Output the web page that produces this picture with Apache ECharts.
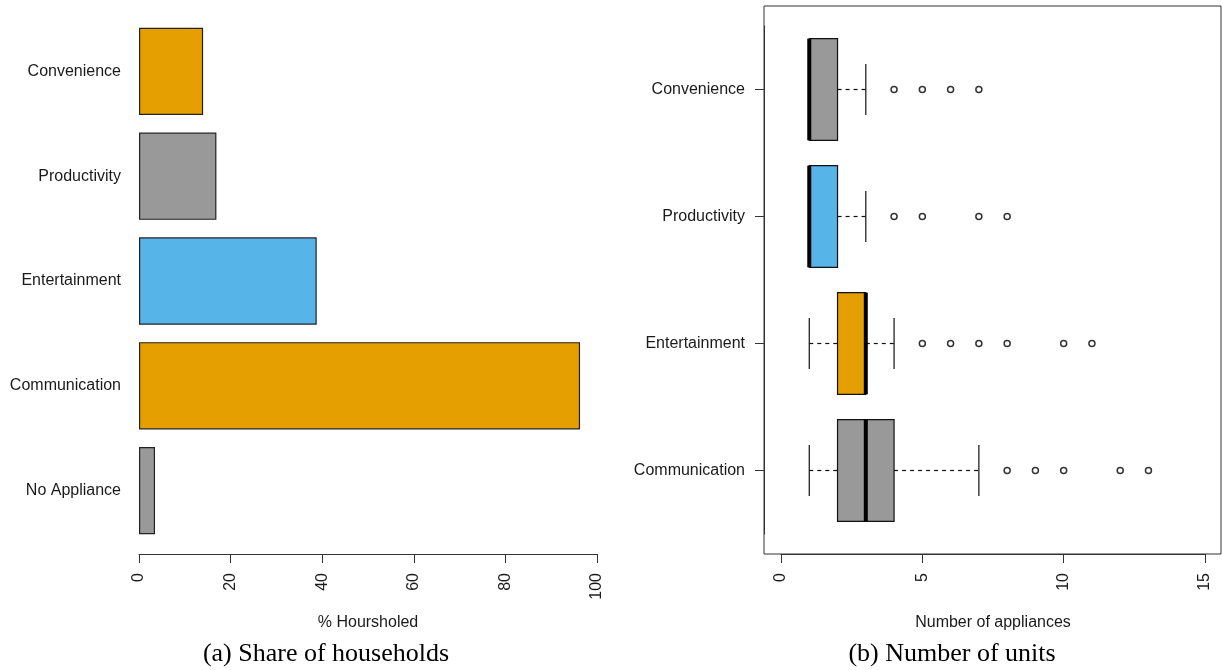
<!DOCTYPE html>
<html>
<head>
<meta charset="utf-8">
<script src="https://cdn.jsdelivr.net/npm/echarts@6/dist/echarts.min.js"></script>
<style>
  html, body { margin: 0; padding: 0; background: #fff; }
  #chart { width: 1222px; height: 670px; }
</style>
</head>
<body>
<div id="chart"></div>
<script>
// Panel (a): share of households owning each appliance type (%)
const shareCategories = ['No Appliance', 'Communication', 'Entertainment', 'Productivity', 'Convenience'];
const shareValues = [3.5, 96.3, 38.8, 16.9, 14.0];
const shareTicks = [0, 20, 40, 60, 80, 100];

// Panel (b): number of appliances per household, five-number summaries
const unitCategories = ['Communication', 'Entertainment', 'Productivity', 'Convenience'];
// [lower whisker, Q1, median, Q3, upper whisker]
const communicationBox = [1, 2, 3, 4, 7];
const entertainmentBox = [1, 2, 3, 3, 4];
const productivityBox = [1, 1, 1, 2, 3];
const convenienceBox = [1, 1, 1, 2, 3];
const communicationOutliers = [8, 9, 10, 12, 13];
const entertainmentOutliers = [5, 6, 7, 8, 10, 11];
const productivityOutliers = [4, 5, 7, 8];
const convenienceOutliers = [4, 5, 6, 7];
const unitTicks = [0, 5, 10, 15];

const ORANGE = '#E69F00';
const BLUE = '#56B4E9';
const GREY = '#999999';
const shareColors = [GREY, ORANGE, BLUE, GREY, ORANGE];
const unitColors = [GREY, ORANGE, BLUE, GREY];

const FONT = 'Liberation Sans, Arial, sans-serif';
const TEXT = '#1a1a1a';
const AXIS = '#333';

const boxes = [communicationBox, entertainmentBox, productivityBox, convenienceBox];
const boxData = boxes.map((b, i) => [i].concat(b));
const outlierSets = [communicationOutliers, entertainmentOutliers, productivityOutliers, convenienceOutliers];
const outlierData = [];
outlierSets.forEach((set, i) => set.forEach(v => outlierData.push([v, i])));

function renderBox(params, api) {
  const cat = api.value(0);
  const lo = api.value(1), q1 = api.value(2), med = api.value(3), q3 = api.value(4), hi = api.value(5);
  const band = api.size([0, 1])[1];
  const half = band * 0.4;
  const stapleHalf = half / 2;
  const y = api.coord([0, cat])[1];
  const xLo = api.coord([lo, cat])[0];
  const xQ1 = api.coord([q1, cat])[0];
  const xMed = api.coord([med, cat])[0];
  const xQ3 = api.coord([q3, cat])[0];
  const xHi = api.coord([hi, cat])[0];
  const thin = { stroke: '#111', lineWidth: 1.2 };
  const dashed = { stroke: '#111', lineWidth: 1.2, lineDash: [4, 4] };
  const children = [];
  if (hi > q3) {
    children.push({ type: 'line', shape: { x1: xQ3, y1: y, x2: xHi, y2: y }, style: dashed });
    children.push({ type: 'line', shape: { x1: xHi, y1: y - stapleHalf, x2: xHi, y2: y + stapleHalf }, style: thin });
  }
  if (lo < q1) {
    children.push({ type: 'line', shape: { x1: xLo, y1: y, x2: xQ1, y2: y }, style: dashed });
    children.push({ type: 'line', shape: { x1: xLo, y1: y - stapleHalf, x2: xLo, y2: y + stapleHalf }, style: thin });
  }
  children.push({
    type: 'rect',
    shape: { x: xQ1, y: y - half, width: xQ3 - xQ1, height: 2 * half },
    style: { fill: unitColors[cat], stroke: '#111', lineWidth: 1.2 }
  });
  children.push({
    type: 'line',
    shape: { x1: xMed, y1: y - half, x2: xMed, y2: y + half },
    style: { stroke: '#000', lineWidth: 4 }
  });
  return { type: 'group', children: children };
}

const chart = echarts.init(document.getElementById('chart'), null, { renderer: 'canvas' });

chart.setOption({
  animation: false,
  backgroundColor: '#fff',
  textStyle: { fontFamily: FONT },
  title: [
    {
      text: '(a) Share of households',
      left: 321, top: 636, textAlign: 'center',
      textStyle: { fontFamily: 'Liberation Serif, Times New Roman, serif', fontSize: 26, fontWeight: 'normal', color: '#000' }
    },
    {
      text: '(b) Number of units',
      left: 947, top: 636, textAlign: 'center',
      textStyle: { fontFamily: 'Liberation Serif, Times New Roman, serif', fontSize: 26, fontWeight: 'normal', color: '#000' }
    }
  ],
  grid: [
    // panel (a)
    { left: 139, right: 625, top: 19, bottom: 127 },
    // panel (b) data region
    { left: 781, right: 17, top: 26, bottom: 136 },
    // panel (b) plot frame
    { left: 764, right: 1, top: 6, bottom: 116, show: true, borderColor: AXIS, borderWidth: 1, backgroundColor: 'transparent' }
  ],
  xAxis: [
    {
      gridIndex: 0, type: 'value', min: shareTicks[0], max: shareTicks[shareTicks.length - 1], interval: 20,
      offset: 11,
      axisLine: { show: true, onZero: false, lineStyle: { color: AXIS, width: 1 } },
      axisTick: { show: true, length: 9, lineStyle: { color: AXIS } },
      axisLabel: { rotate: 90, margin: 19, fontSize: 16, color: TEXT, fontFamily: FONT },
      splitLine: { show: false },
      name: '% Hoursholed', nameLocation: 'middle', nameGap: 61,
      nameTextStyle: { fontSize: 16, color: TEXT, fontFamily: FONT }
    },
    {
      gridIndex: 1, type: 'value', min: unitTicks[0], max: unitTicks[unitTicks.length - 1], interval: 5,
      offset: 20,
      axisLine: { show: true, onZero: false, lineStyle: { color: AXIS, width: 1 } },
      axisTick: { show: true, length: 9, lineStyle: { color: AXIS } },
      axisLabel: { rotate: 90, margin: 19, fontSize: 16, color: TEXT, fontFamily: FONT },
      splitLine: { show: false },
      name: 'Number of appliances', nameLocation: 'middle', nameGap: 61,
      nameTextStyle: { fontSize: 16, color: TEXT, fontFamily: FONT }
    },
    { gridIndex: 2, type: 'value', show: false, min: 0, max: 1 }
  ],
  yAxis: [
    {
      gridIndex: 0, type: 'category', data: shareCategories,
      axisLine: { show: false, onZero: false }, axisTick: { show: false },
      axisLabel: { margin: 18, fontSize: 16, color: TEXT, fontFamily: FONT },
      splitLine: { show: false }
    },
    {
      gridIndex: 1, type: 'category', data: unitCategories,
      offset: 17,
      axisLine: { show: true, onZero: false, lineStyle: { color: AXIS, width: 1 } },
      axisTick: { show: true, alignWithLabel: true, length: 9, lineStyle: { color: AXIS } },
      axisLabel: { margin: 19, fontSize: 16, color: TEXT, fontFamily: FONT },
      splitLine: { show: false }
    },
    { gridIndex: 2, type: 'value', show: false, min: 0, max: 1 }
  ],
  series: [
    {
      type: 'bar', xAxisIndex: 0, yAxisIndex: 0,
      barCategoryGap: '16.67%',
      data: shareValues.map((v, i) => ({ value: v, itemStyle: { color: shareColors[i] } })),
      itemStyle: { borderColor: '#222', borderWidth: 1.2 }
    },
    {
      type: 'custom', xAxisIndex: 1, yAxisIndex: 1,
      renderItem: renderBox,
      encode: { x: [1, 2, 3, 4, 5], y: 0 },
      data: boxData,
      z: 2
    },
    {
      type: 'scatter', xAxisIndex: 1, yAxisIndex: 1,
      symbol: 'circle', symbolSize: 6,
      itemStyle: { color: 'rgba(0,0,0,0)', borderColor: '#000', borderWidth: 1.5 },
      data: outlierData,
      z: 3
    }
  ]
});
</script>
</body>
</html>
